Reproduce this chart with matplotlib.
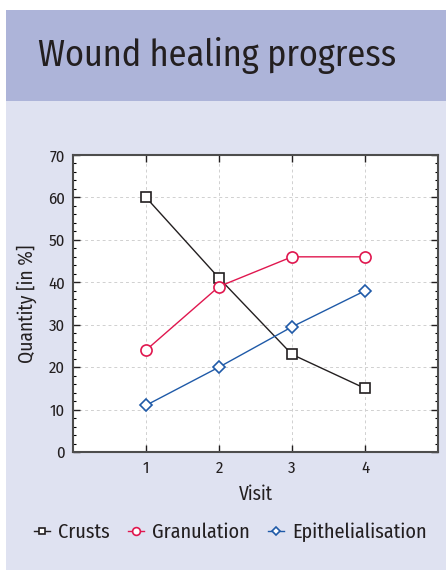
import matplotlib
matplotlib.use("Agg")
import matplotlib.pyplot as plt
from matplotlib.patches import Rectangle
from matplotlib.ticker import MultipleLocator

# data
visits = [1, 2, 3, 4]
crusts = [60, 41, 23, 15]
granulation = [24, 39, 46, 46]
epithelialisation = [11, 20, 29.5, 38]
series_names = ["Crusts", "Granulation", "Epithelialisation"]

plt.rcParams['font.family'] = ['Fira Sans Condensed', 'PT Sans Narrow', 'DejaVu Sans']

W, H = 446, 570
fig = plt.figure(figsize=(W / 100, H / 100), dpi=100)
fig.patch.set_facecolor("white")

# background bands
fig.patches.append(Rectangle((6 / W, 0), 1, (H - 101) / H, transform=fig.transFigure,
                             facecolor="#dfe2f1", edgecolor="none", zorder=-2))
fig.patches.append(Rectangle((6 / W, (H - 101) / H), 1, 91 / H, transform=fig.transFigure,
                             facecolor="#adb4d9", edgecolor="none", zorder=-2))
fig.text(38 / W, (H - 56) / H, "Wound healing progress", fontsize=26, color="#231f20",
         va="center", ha="left")

ax = fig.add_axes([73 / W, (H - 452) / H, (438 - 73) / W, (452 - 155) / H])
ax.set_facecolor("white")

ax.plot(visits, crusts, color="#231f20", lw=1, marker="s", ms=7, mfc="white",
        mec="#231f20", mew=1.2, label=series_names[0])
ax.plot(visits, granulation, color="#e0174f", lw=1, marker="o", ms=8, mfc="white",
        mec="#e0174f", mew=1.2, label=series_names[1])
ax.plot(visits, epithelialisation, color="#1f5aa8", lw=1, marker="D", ms=6.5, mfc="white",
        mec="#1f5aa8", mew=1.2, label=series_names[2])

ax.set_xlim(0, 5)
ax.set_ylim(0, 70)
ax.set_xticks(visits)
ax.yaxis.set_major_locator(MultipleLocator(10))
ax.yaxis.set_minor_locator(MultipleLocator(2))
ax.tick_params(axis="both", which="major", direction="in", length=5, width=1,
               top=True, right=True, labelsize=12, colors="#231f20", pad=6)
ax.tick_params(axis="y", which="minor", direction="in", length=2.5, width=0.8,
               left=True, right=True)
ax.grid(True, color="#d0d0d0", linestyle=(0, (3, 3)), lw=0.7)
for sp in ax.spines.values():
    sp.set_color("#4d4d4d")
    sp.set_linewidth(1.5)

ax.set_xlabel("Visit", fontsize=14, color="#231f20", labelpad=6)
ax.set_ylabel("Quantity [in %]", fontsize=14, color="#231f20", labelpad=8)

fig.legend(loc="center", bbox_to_anchor=(230 / W, (H - 532) / H), ncol=3, frameon=False,
           fontsize=14.5, handlelength=0.8, handletextpad=0.4, columnspacing=0.9,
           markerscale=0.7, labelcolor="#231f20")

fig.savefig("out.png", dpi=100, facecolor=fig.get_facecolor())
